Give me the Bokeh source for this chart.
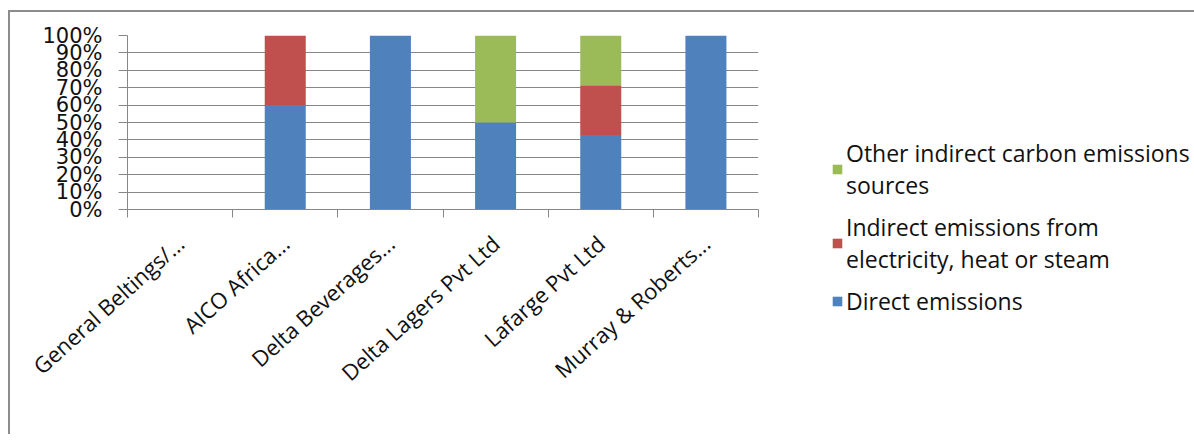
import math
from bokeh.plotting import figure
from bokeh.models import (ColumnDataSource, FixedTicker, NumeralTickFormatter, Range1d,
                          Legend, LegendItem)
from bokeh.embed import file_html
from bokeh.resources import INLINE

categories = ["General Beltings/...", "AICO Africa...", "Delta Beverages...",
              "Delta Lagers Pvt Ltd", "Lafarge Pvt Ltd", "Murray & Roberts..."]
direct = [0.0, 0.60, 1.00, 0.50, 0.4286, 1.00]
indirect = [0.0, 0.40, 0.0, 0.0, 0.2857, 0.0]
other = [0.0, 0.0, 0.0, 0.50, 0.2857, 0.0]
series = ["direct", "indirect", "other"]
series_labels = ["Direct emissions",
                 "Indirect emissions from\nelectricity, heat or steam",
                 "Other indirect carbon emissions\nsources"]
colors = ["#4F81BD", "#C0504D", "#9BBB59"]
y_ticks = [i / 10 for i in range(11)]

xpos = [i + 0.5 for i in range(len(categories))]
src = ColumnDataSource(dict(x=xpos, direct=direct, indirect=indirect, other=other))

p = figure(frame_width=631, frame_height=174, output_backend="svg", toolbar_location=None,
           x_range=Range1d(0, len(categories)), y_range=Range1d(0, 1))
p.min_border_left = 117
p.min_border_top = 23
p.min_border_right = 425
p.min_border_bottom = 225
p.margin = (10, 0, 0, 8)
p.styles = {"border-left": "2px solid #8c8c8c", "border-top": "2px solid #8c8c8c"}
p.outline_line_color = None
p.background_fill_color = "white"
p.border_fill_color = "white"

renderers = p.vbar_stack(series, x="x", width=0.39, color=colors, line_color=None, source=src)

p.xgrid.grid_line_color = None
p.ygrid.ticker = FixedTicker(ticks=y_ticks)
p.ygrid.grid_line_color = "#878787"
p.ygrid.grid_line_width = 1

yax = p.yaxis[0]
yax.ticker = FixedTicker(ticks=y_ticks)
yax.formatter = NumeralTickFormatter(format="0%")
yax.axis_line_color = "#878787"
yax.major_tick_line_color = "#878787"
yax.major_tick_out = 9
yax.major_tick_in = 0
yax.minor_tick_line_color = None
yax.major_label_standoff = 16
yax.major_label_text_font = "DejaVu Sans"
yax.major_label_text_font_size = "21px"
yax.major_label_text_color = "#111111"

xax = p.xaxis[0]
xax.ticker = FixedTicker(ticks=xpos, minor_ticks=list(range(len(categories) + 1)))
xax.major_label_overrides = {x: c for x, c in zip(xpos, categories)}
xax.major_tick_line_color = None
xax.minor_tick_line_color = "#878787"
xax.minor_tick_out = 8
xax.minor_tick_in = 0
xax.axis_line_color = "#878787"
xax.major_label_orientation = math.radians(42)
xax.major_label_standoff = 22
xax.major_label_text_font = "Open Sans"
xax.major_label_text_font_size = "22px"
xax.major_label_text_color = "#111111"

items = [LegendItem(label=series_labels[i], renderers=[renderers[i]]) for i in [2, 1, 0]]
legend = Legend(items=items, location=(73, -108), orientation="vertical",
                label_text_font="Open Sans", label_text_font_size="23px",
                label_text_color="#111111", glyph_width=12, glyph_height=12,
                spacing=10, border_line_color=None, background_fill_alpha=0,
                label_standoff=3, padding=0, margin=0)
p.add_layout(legend, "right")

open("out.html", "w").write(file_html(p, INLINE))
